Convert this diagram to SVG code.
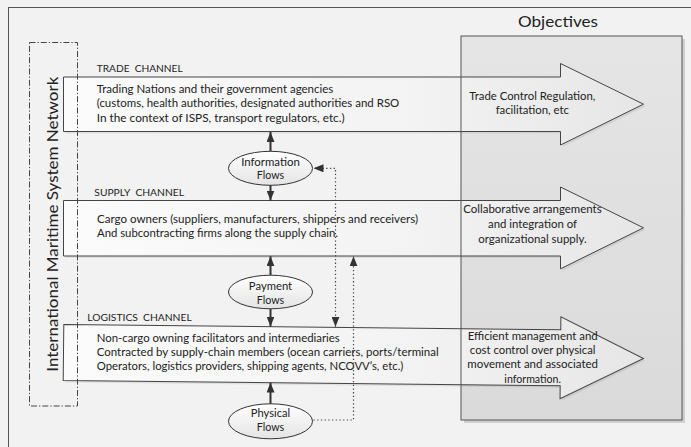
<svg xmlns="http://www.w3.org/2000/svg" width="691" height="447" viewBox="0 0 691 447">
<defs>
<style>
text{font-family:"Lato","Open Sans","Liberation Sans",sans-serif;fill:#222;}
.body{font-size:11px;}
.lbl{font-size:9.5px;}
.obj{font-size:11px;text-anchor:middle;}
.ell{font-size:11px;text-anchor:middle;}
.chan{fill:url(#chanGrad);stroke:#444;stroke-width:1;}
.chanShadow{fill:#000;opacity:0.07;}
.flow{fill:url(#ellGrad);stroke:#333;stroke-width:1;}
.solid{fill:none;stroke:#333;stroke-width:2;marker-end:url(#ah);}
.dotted{fill:none;stroke:#444;stroke-width:1.2;stroke-dasharray:1.3,2.4;}
</style>
<linearGradient id="chanGrad" x1="0" y1="0" x2="1" y2="0">
<stop offset="0" stop-color="#fbfbfb"/>
<stop offset="0.6" stop-color="#f3f3f3"/>
<stop offset="1" stop-color="#e6e6e6"/>
</linearGradient>
<linearGradient id="objGrad" x1="0" y1="0" x2="0" y2="1">
<stop offset="0" stop-color="#e5e5e5"/>
<stop offset="1" stop-color="#dadada"/>
</linearGradient>
<linearGradient id="ellGrad" x1="0" y1="0" x2="0" y2="1">
<stop offset="0" stop-color="#ffffff"/>
<stop offset="1" stop-color="#e4e4e4"/>
</linearGradient>
<marker id="ah" viewBox="0 0 10 8" refX="10" refY="4" markerWidth="10" markerHeight="8" markerUnits="userSpaceOnUse" orient="auto-start-reverse">
<path d="M0,0 L10,4 L0,8 Z" fill="#333"/>
</marker>
</defs>

<rect x="0" y="0" width="691" height="447" fill="#f2f2f2"/>
<rect x="8.5" y="7.5" width="700" height="460" fill="none" stroke="#555" stroke-width="1"/>

<g id="objectives-panel">
<rect x="464" y="39" width="221" height="384" fill="#cfcfcf"/>
<rect x="461" y="36" width="221" height="384" fill="url(#objGrad)"/>
</g>

<g id="trade-channel">
<path class="chanShadow" d="M65.5,79 H562.5 V65.5 L645.5,106.2 L562.5,147 V133.5 H65.5 Z"/>
<path class="chan" d="M63.5,77 H560.5 V63.5 L643.5,104.2 L560.5,145 V131.5 H63.5 Z"/>
<text class="lbl" x="96.7" y="72" xml:space="preserve" textLength="86" lengthAdjust="spacingAndGlyphs">TRADE  CHANNEL</text>
<text class="body" x="96.7" y="92.6" textLength="236.6" lengthAdjust="spacingAndGlyphs">Trading Nations and their government agencies</text>
<text class="body" x="96.7" y="107.4" textLength="302.6" lengthAdjust="spacingAndGlyphs">(customs, health authorities, designated authorities and RSO</text>
<text class="body" x="96.7" y="121.8" textLength="248" lengthAdjust="spacingAndGlyphs">In the context of ISPS, transport regulators, etc.)</text>
</g>

<g id="supply-channel">
<path class="chanShadow" d="M65.5,202.5 H562.5 V189 L645.5,229.8 L562.5,270.8 V258 H65.5 Z"/>
<path class="chan" d="M63.5,200.5 H560.5 V187 L643.5,227.8 L560.5,268.8 V256 H63.5 Z"/>
<text class="lbl" x="94.3" y="196.3" xml:space="preserve" textLength="89.7" lengthAdjust="spacingAndGlyphs">SUPPLY  CHANNEL</text>
<text class="body" x="97" y="222.8" textLength="321" lengthAdjust="spacingAndGlyphs">Cargo owners (suppliers, manufacturers, shippers and receivers)</text>
<text class="body" x="97" y="236.7" textLength="241" lengthAdjust="spacingAndGlyphs">And subcontracting firms along the supply chain.</text>
</g>

<g id="logistics-channel">
<text class="lbl" x="87.3" y="320.7" xml:space="preserve" textLength="104.4" lengthAdjust="spacingAndGlyphs">LOGISTICS  CHANNEL</text>
<g transform="rotate(0.6 63.5 352.5)">
<path class="chanShadow" d="M65.5,326.5 H562.5 V313.5 L645.5,354.5 L562.5,395.5 V382.5 H65.5 Z"/>
<path class="chan" d="M63.5,324.5 H560.5 V311.5 L643.5,352.5 L560.5,393.5 V380.5 H63.5 Z"/>
</g>
<text class="body" x="96.7" y="341.7" textLength="243" lengthAdjust="spacingAndGlyphs">Non-cargo owning facilitators and intermediaries</text>
<text class="body" x="96.7" y="356.2" textLength="342" lengthAdjust="spacingAndGlyphs">Contracted by supply-chain members (ocean carriers, ports/terminal</text>
<text class="body" x="96.7" y="370.4" textLength="306.7" lengthAdjust="spacingAndGlyphs">Operators, logistics providers, shipping agents, NCOVV’s, etc.)</text>
</g>

<g id="objectives">
<rect x="461" y="36" width="221" height="384" fill="none" stroke="#555" stroke-width="1"/>
<text x="558" y="27" font-size="15" text-anchor="middle" textLength="80" lengthAdjust="spacingAndGlyphs">Objectives</text>
<text class="obj" x="532.3" y="100" textLength="126" lengthAdjust="spacingAndGlyphs">Trade Control Regulation,</text>
<text class="obj" x="532.3" y="114" textLength="73.3" lengthAdjust="spacingAndGlyphs">facilitation, etc</text>
<text class="obj" x="532.5" y="213.3" textLength="138.4" lengthAdjust="spacingAndGlyphs">Collaborative arrangements</text>
<text class="obj" x="532.5" y="227.7" textLength="89" lengthAdjust="spacingAndGlyphs">and integration of</text>
<text class="obj" x="532.5" y="242.5" textLength="108.3" lengthAdjust="spacingAndGlyphs">organizational supply.</text>
<text class="obj" x="532.7" y="340" textLength="130" lengthAdjust="spacingAndGlyphs">Efficient management and</text>
<text class="obj" x="532.7" y="354.3" textLength="125.7" lengthAdjust="spacingAndGlyphs">cost control over physical</text>
<text class="obj" x="532.7" y="368.4" textLength="130.7" lengthAdjust="spacingAndGlyphs">movement and associated</text>
<text class="obj" x="532.7" y="382.6" textLength="56.7" lengthAdjust="spacingAndGlyphs">information.</text>
</g>

<g id="network">
<rect x="29.5" y="42.5" width="48" height="363.5" fill="none" stroke="#444" stroke-width="1" stroke-dasharray="6,2,1.3,2"/>
<text transform="translate(58.3,224.2) rotate(-90)" x="0" y="0" font-size="16" text-anchor="middle" textLength="295" lengthAdjust="spacingAndGlyphs">International Maritime System Network</text>
</g>

<g id="connectors">
<line class="solid" x1="270.5" y1="151.5" x2="270.5" y2="132"/>
<line class="solid" x1="270.5" y1="185" x2="270.5" y2="200.5"/>
<line class="solid" x1="270.5" y1="275.5" x2="270.5" y2="256.3"/>
<line class="solid" x1="270.5" y1="308.5" x2="270.5" y2="326.6"/>
<line class="solid" x1="270.5" y1="404" x2="270.5" y2="382.6"/>
<path class="dotted" d="M335.5,326.8 V168.3 H313.5" marker-start="url(#ah)" marker-end="url(#ah)"/>
<path class="dotted" d="M313.5,420 H353.5 V256.3" marker-end="url(#ah)"/>
</g>

<g id="information-flows">
<ellipse class="flow" cx="270.5" cy="168.3" rx="42" ry="17"/>
<text class="ell" x="270.5" y="165.6" textLength="58.7" lengthAdjust="spacingAndGlyphs">Information</text>
<text class="ell" x="270.5" y="178.5" textLength="27.3" lengthAdjust="spacingAndGlyphs">Flows</text>
</g>

<g id="payment-flows">
<ellipse class="flow" cx="270.5" cy="292" rx="42" ry="16.8"/>
<text class="ell" x="270.5" y="289.5" textLength="43.3" lengthAdjust="spacingAndGlyphs">Payment</text>
<text class="ell" x="270.5" y="304" textLength="27.3" lengthAdjust="spacingAndGlyphs">Flows</text>
</g>

<g id="physical-flows">
<ellipse class="flow" cx="270.5" cy="421.3" rx="42" ry="17.5"/>
<text class="ell" x="270.5" y="416.7" textLength="39.3" lengthAdjust="spacingAndGlyphs">Physical</text>
<text class="ell" x="270.5" y="430.6" textLength="27.3" lengthAdjust="spacingAndGlyphs">Flows</text>
</g>
</svg>
